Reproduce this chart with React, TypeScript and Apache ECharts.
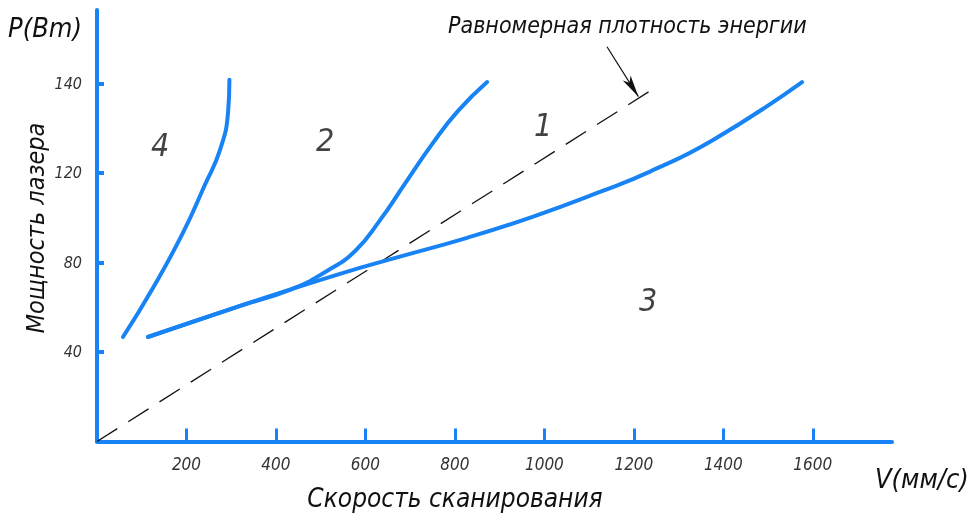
import React, { useEffect, useRef } from "react";
import * as echarts from "echarts";

// Scan speed V (mm/s) vs laser power P (W) for the four process regions
const curve3: [number, number][] = [
  [114, 46.7], [320, 60.6], [543, 74.9], [677, 82.6], [827, 91.0], [975, 100.5],
  [1124, 111.5], [1236, 120.6], [1377, 134.7], [1576, 160.6],
];
const curve2: [number, number][] = [
  [114, 46.7], [320, 60.6], [431, 67.7], [514, 76.2], [577, 85.1], [633, 99.0],
  [688, 115.1], [751, 133.4], [807, 147.7], [872, 160.6],
];
const curve4: [number, number][] = [
  [58, 46.7], [125, 68.6], [192, 93.2], [241, 114.6], [275, 130.3], [293, 147.3], [296, 161.6],
];
// Line of equal energy density, through the origin
const equalEnergy: [number, number][] = [[0, 0], [1236, 156.6]];
const arrowFrom: [number, number] = [1140, 176.4];
const arrowTo: [number, number] = [1210, 154.1];

const regionLabels: { name: string; value: [number, number] }[] = [
  { name: "4", value: [141, 132.5] },
  { name: "2", value: [510, 134.8] },
  { name: "1", value: [997, 141.5] },
  { name: "3", value: [1232, 63.2] },
];

const xTicks = [200, 400, 600, 800, 1000, 1200, 1400, 1600];
const yTicks = [40, 80, 120, 160];
const yTickLabels = ["40", "80", "120", "140"];

const BLUE = "#1783f4";
const FONT = "'DejaVu Sans Condensed', 'DejaVu Sans', sans-serif";

export default function App() {
  const ref = useRef<HTMLDivElement>(null);
  useEffect(() => {
    if (!ref.current) return;
    const chart = echarts.init(ref.current, null, { renderer: "svg" });
    const textBase = { fontFamily: FONT, fontStyle: "italic" as const, fill: "#111" };
    const curveStyle = { color: BLUE, width: 4, cap: "round" as const };
    chart.setOption({
      animation: false,
      grid: { left: 97, right: 82, top: 10, bottom: 73.5, outerBoundsMode: "none" },
      xAxis: {
        type: "value",
        min: 0,
        max: 1777,
        splitLine: { show: false },
        axisLine: { lineStyle: { color: BLUE, width: 4 } },
        axisTick: {
          inside: true,
          length: 13,
          customValues: xTicks,
          lineStyle: { color: BLUE, width: 3 },
        },
        axisLabel: {
          customValues: xTicks,
          margin: 14,
          color: "#333",
          fontFamily: FONT,
          fontStyle: "italic",
          fontWeight: 300,
          fontSize: 17,
          formatter: (v: number) => String(v),
        },
      },
      yAxis: {
        type: "value",
        min: 0,
        max: 192.8,
        splitLine: { show: false },
        axisLine: { lineStyle: { color: BLUE, width: 4 } },
        axisTick: {
          inside: true,
          length: 7,
          customValues: yTicks,
          lineStyle: { color: BLUE, width: 4 },
        },
        axisLabel: {
          customValues: yTicks,
          margin: 15,
          color: "#333",
          fontFamily: FONT,
          fontStyle: "italic",
          fontWeight: 300,
          fontSize: 16,
          formatter: (v: number) => {
            const i = yTicks.indexOf(v);
            return i >= 0 ? yTickLabels[i] : "";
          },
        },
      },
      graphic: [
        { type: "text", left: 8, top: 14, style: { ...textBase, text: "P(Bm)", fontSize: 27 } },
        {
          type: "text",
          x: 35,
          y: 228,
          rotation: Math.PI / 2,
          style: { ...textBase, text: "Мощность лазера", fontSize: 25, align: "center", verticalAlign: "middle" },
        },
        {
          type: "text",
          x: 455,
          y: 498,
          style: { ...textBase, text: "Скорость сканирования", fontSize: 26, align: "center", verticalAlign: "middle" },
        },
        {
          type: "text",
          x: 875,
          y: 478,
          style: { ...textBase, text: "V(мм/с)", fontSize: 27, align: "left", verticalAlign: "middle" },
        },
        {
          type: "text",
          x: 448,
          y: 25,
          style: { ...textBase, text: "Равномерная плотность энергии", fontSize: 23, align: "left", verticalAlign: "middle" },
        },
      ],
      series: [
        {
          type: "line",
          data: equalEnergy,
          symbol: "none",
          lineStyle: { color: "#111", width: 1.3, type: [24, 13] },
          markLine: {
            silent: true,
            symbol: ["none", "arrow"],
            symbolSize: [7, 22],
            label: { show: false },
            lineStyle: { color: "#111", width: 1.2, type: "solid" },
            data: [[{ coord: arrowFrom }, { coord: arrowTo }]],
          },
        },
        { type: "line", data: curve3, symbol: "none", smooth: 0.5, lineStyle: curveStyle },
        { type: "line", data: curve2, symbol: "none", smooth: 0.5, lineStyle: curveStyle },
        { type: "line", data: curve4, symbol: "none", smooth: 0.5, lineStyle: curveStyle },
        {
          type: "scatter",
          data: regionLabels,
          symbolSize: 0,
          label: {
            show: true,
            position: "inside",
            formatter: (p: any) => p.name,
            color: "#111",
            fontFamily: FONT,
            fontStyle: "italic",
            fontSize: 32,
          },
        },
      ],
    });
    return () => chart.dispose();
  }, []);
  return <div ref={ref} style={{ position: "fixed", left: 0, top: 0, width: 974, height: 515 }} />;
}
